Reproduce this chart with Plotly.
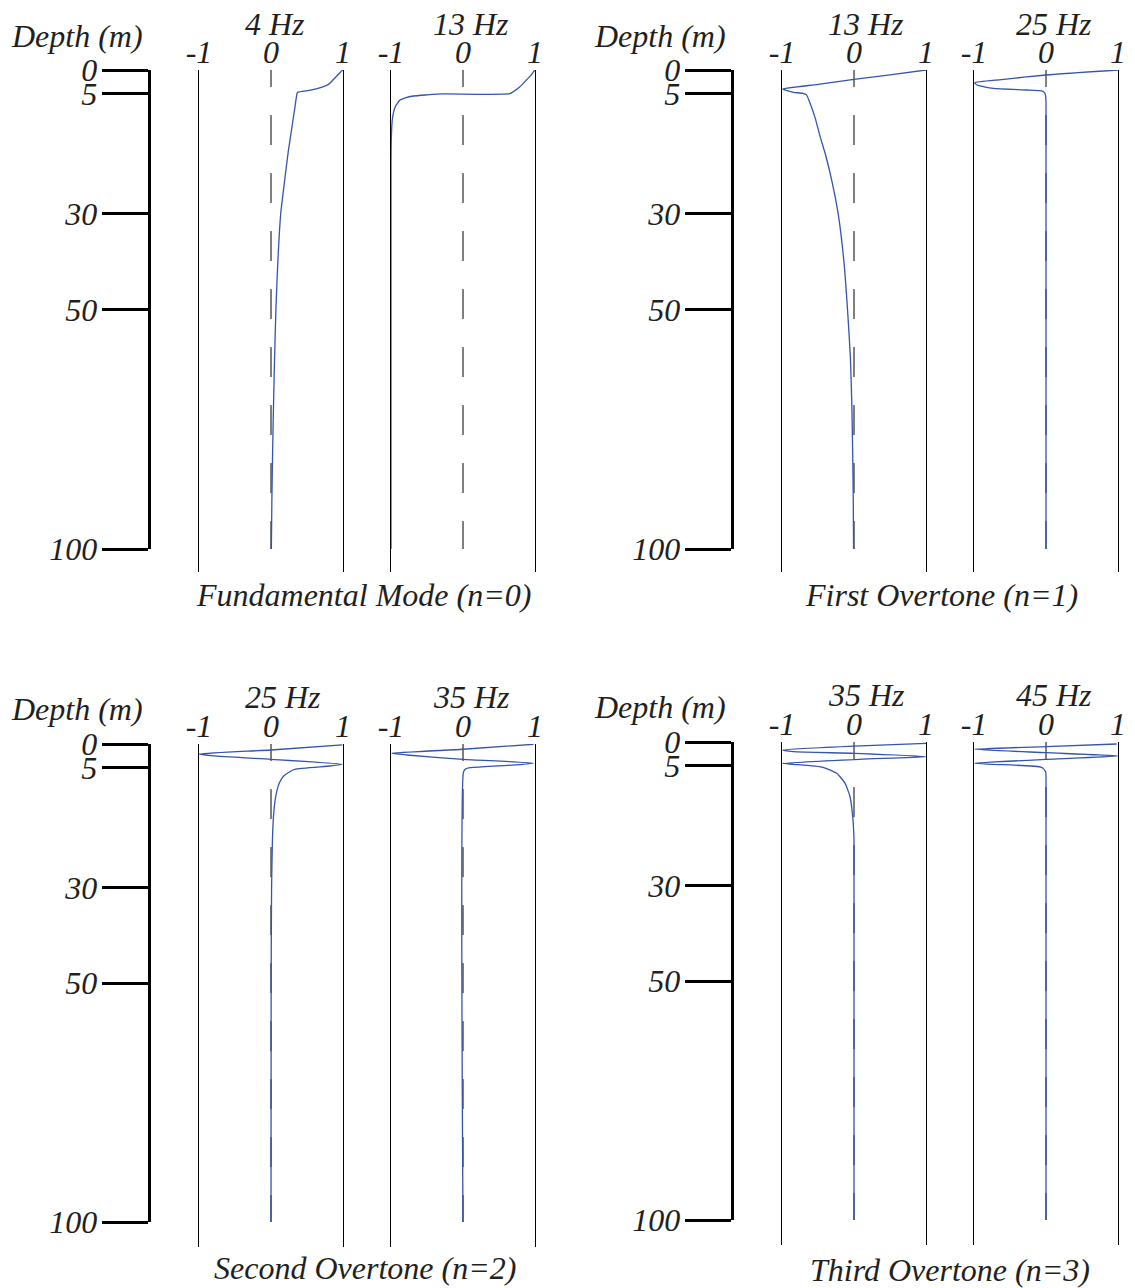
import plotly.graph_objects as go

# ---------------------------------------------------------------------------
# Normalised mode-shape amplitudes versus depth (m)
# ---------------------------------------------------------------------------
# Fundamental mode (n=0)
n0_4hz_depth = [0, 0.35, 1.0, 2.1, 3.0, 3.5, 4.2, 4.66, 5.0, 8, 12, 17, 23, 30, 40, 50, 60, 70, 80, 90, 100]
n0_4hz_amp = [1.0, 0.97, 0.93, 0.86, 0.80, 0.72, 0.55, 0.37, 0.36, 0.33, 0.29, 0.24, 0.19, 0.135, 0.095, 0.068, 0.05, 0.035, 0.022, 0.012, 0.005]

n0_13hz_depth = [0, 0.35, 1.0, 2.1, 3.5, 4.3, 4.95, 5.0, 5.2, 5.43, 5.8, 6.26, 7.66, 10.1, 14, 20, 100]
n0_13hz_amp = [1.0, 0.98, 0.95, 0.88, 0.79, 0.72, 0.65, -0.27, -0.50, -0.69, -0.80, -0.875, -0.94, -0.98, -0.995, -1.0, -1.0]

# First overtone (n=1)
n1_13hz_depth = [0, 1.0, 1.95, 3.0, 3.97, 4.3, 4.66, 4.87, 5.2, 6.96, 10, 13.9, 18, 23, 30, 40, 50, 60, 70, 80, 90, 100]
n1_13hz_amp = [1.0, 0.50, 0.0, -0.50, -0.99, -0.93, -0.84, -0.71, -0.66, -0.61, -0.54, -0.47, -0.39, -0.31, -0.22, -0.14, -0.09, -0.05, -0.03, -0.018, -0.01, -0.006]

n1_25hz_depth = [0, 1.04, 2.0, 2.65, 3.13, 3.5, 3.83, 4.18, 4.38, 4.6, 4.87, 5.5, 6.9, 100]
n1_25hz_amp = [1.0, 0.0, -0.62, -0.99, -0.96, -0.86, -0.73, -0.27, -0.06, -0.03, -0.015, -0.005, 0.0, 0.0]

# Second overtone (n=2)
n2_25hz_depth = [0.2, 1.25, 2.1, 2.5, 3.2, 4.25, 4.6, 5.3, 5.8, 6.8, 8, 9.6, 12, 15, 20, 30, 50, 100]
n2_25hz_amp = [0.99, 0.0, -1.0, -0.80, 0.0, 0.99, 0.82, 0.33, 0.26, 0.17, 0.12, 0.085, 0.055, 0.035, 0.02, 0.008, 0.002, 0.0]

n2_35hz_depth = [0.06, 1.1, 1.95, 2.3, 3.2, 4.0, 4.3, 4.7, 5.0, 5.3, 6.0, 100]
n2_35hz_amp = [0.98, 0.0, -0.99, -0.78, 0.0, 0.98, 0.80, 0.35, 0.08, 0.03, 0.005, 0.0]

# Third overtone (n=3)
n3_35hz_depth = [0.27, 0.85, 1.67, 2.03, 2.36, 3.08, 3.62, 4.46, 4.67, 5.3, 6.55, 8.6, 11.4, 15.6, 20.5, 100]
n3_35hz_amp = [1.0, 0.0, -0.99, -0.84, 0.0, 1.0, 0.08, -0.99, -0.84, -0.43, -0.24, -0.125, -0.056, -0.018, 0.0, 0.0]

n3_45hz_depth = [0.42, 0.95, 1.53, 2.24, 2.93, 3.62, 4.46, 4.67, 5.3, 6.2, 8.6, 100]
n3_45hz_amp = [0.98, 0.0, -0.99, 0.0, 1.0, 0.0, -0.99, -0.73, -0.06, -0.005, 0.0, 0.0]

# Axis ticks
depth_ticks = [0, 5, 30, 50, 100]
amp_ticks = [-1, 0, 1]
amp_ticktext = ["-1", "0", "1"]

frequencies = [["4 Hz", "13 Hz"], ["13 Hz", "25 Hz"], ["25 Hz", "35 Hz"], ["35 Hz", "45 Hz"]]
captions = ["Fundamental Mode (n=0)", "First Overtone (n=1)", "Second Overtone (n=2)", "Third Overtone (n=3)"]
curves = [
    [(n0_4hz_amp, n0_4hz_depth), (n0_13hz_amp, n0_13hz_depth)],
    [(n1_13hz_amp, n1_13hz_depth), (n1_25hz_amp, n1_25hz_depth)],
    [(n2_25hz_amp, n2_25hz_depth), (n2_35hz_amp, n2_35hz_depth)],
    [(n3_35hz_amp, n3_35hz_depth), (n3_45hz_amp, n3_45hz_depth)],
]

# ---------------------------------------------------------------------------
# Layout geometry (pixels)
# ---------------------------------------------------------------------------
W, H = 1135, 1288
BLUE = "#3454ae"
INK = "#231f20"
FONT = "Liberation Serif"
FS = 32

groups = [
    dict(axis_x=150, top=70, d100=549, pbot=572, panels=[(199, 343), (391, 535)],
         depth_lbl=(77, 36), hz=[(275, 24), (471, 24)], cap=(363, 595)),
    dict(axis_x=733, top=70, d100=549, pbot=572, panels=[(782, 926), (974, 1118)],
         depth_lbl=(660, 36), hz=[(866, 24), (1054, 24)], cap=(941, 595)),
    dict(axis_x=150, top=744, d100=1222, pbot=1247, panels=[(199, 343), (391, 535)],
         depth_lbl=(77, 709), hz=[(283, 697), (471, 697)], cap=(365, 1268)),
    dict(axis_x=733, top=742, d100=1220, pbot=1245, panels=[(782, 926), (974, 1118)],
         depth_lbl=(660, 707), hz=[(866, 695), (1054, 695)], cap=(950, 1270)),
]


def xdom(a, b):
    return [a / W, b / W]


def ydom(top, bottom):
    return [1 - bottom / H, 1 - top / H]


font = dict(family=FONT, size=FS, color=INK, style="italic")

fig = go.Figure()
layout = {}
annotations = []
ax = 0

for gi, g in enumerate(groups):
    scale = (g["d100"] - g["top"]) / 100.0
    pmax = (g["pbot"] - g["top"]) / scale

    # depth axis (bracket with long outward ticks)
    ax += 1
    xn, yn = f"xaxis{ax}", f"yaxis{ax}"
    layout[xn] = dict(domain=xdom(g["axis_x"] + 0.5, g["axis_x"] + 4.5), range=[0, 1], visible=False,
                      anchor=f"y{ax}", fixedrange=True, automargin=False)
    layout[yn] = dict(domain=ydom(g["top"], g["d100"]), range=[100, 0], anchor=f"x{ax}",
                      showline=True, linewidth=2.5, linecolor="black", ticks="outside",
                      ticklen=46, tickwidth=2.5, tickcolor="black", tickvals=depth_ticks,
                      ticktext=[str(v) for v in depth_ticks], tickfont=font,
                      ticklabelstandoff=-2,
                      showgrid=False, zeroline=False, fixedrange=True, automargin=False)
    fig.add_trace(go.Scatter(x=[0.5], y=[50], mode="markers", marker=dict(opacity=0),
                             hoverinfo="skip", showlegend=False,
                             xaxis=f"x{ax}", yaxis=f"y{ax}"))

    annotations.append(dict(text="Depth (m)", x=g["depth_lbl"][0] / W, y=1 - g["depth_lbl"][1] / H,
                            xref="paper", yref="paper", showarrow=False, font=font,
                            xanchor="center", yanchor="middle"))
    annotations.append(dict(text=captions[gi], x=g["cap"][0] / W, y=1 - g["cap"][1] / H,
                            xref="paper", yref="paper", showarrow=False, font=font,
                            xanchor="center", yanchor="middle"))

    for pi, (x0, x1) in enumerate(g["panels"]):
        ax += 1
        xn, yn = f"xaxis{ax}", f"yaxis{ax}"
        layout[xn] = dict(domain=xdom(x0, x1), range=[-1, 1], anchor=f"y{ax}", side="top",
                          showline=False, ticks="", tickvals=amp_ticks, ticktext=amp_ticktext,
                          tickfont=font, showgrid=False, zeroline=False, fixedrange=True,
                          automargin=False)
        layout[yn] = dict(domain=ydom(g["top"], g["pbot"]), range=[pmax, 0], anchor=f"x{ax}",
                          showline=True, mirror=True, linewidth=1, linecolor="black",
                          showticklabels=False, ticks="", showgrid=False, zeroline=False,
                          fixedrange=True, automargin=False)
        # dashed zero reference
        fig.add_trace(go.Scatter(x=[0, 0], y=[-2.7, 100], mode="lines",
                                 line=dict(color="black", width=1, dash="30px,28px"),
                                 hoverinfo="skip", showlegend=False,
                                 xaxis=f"x{ax}", yaxis=f"y{ax}"))
        amp, depth = curves[gi][pi]
        fig.add_trace(go.Scatter(x=amp, y=depth, mode="lines",
                                 line=dict(color=BLUE, width=1.3, shape="spline", smoothing=0.5),
                                 hoverinfo="skip", showlegend=False,
                                 xaxis=f"x{ax}", yaxis=f"y{ax}"))
        hx, hy = g["hz"][pi]
        annotations.append(dict(text=frequencies[gi][pi], x=hx / W, y=1 - hy / H,
                                xref="paper", yref="paper", showarrow=False, font=font,
                                xanchor="center", yanchor="middle"))

fig.update_layout(**layout)
fig.update_layout(width=W, height=H, autosize=False,
                  margin=dict(l=0, r=0, t=0, b=0, pad=0),
                  paper_bgcolor="white", plot_bgcolor="white",
                  annotations=annotations, showlegend=False)

fig.write_html("out.html")
